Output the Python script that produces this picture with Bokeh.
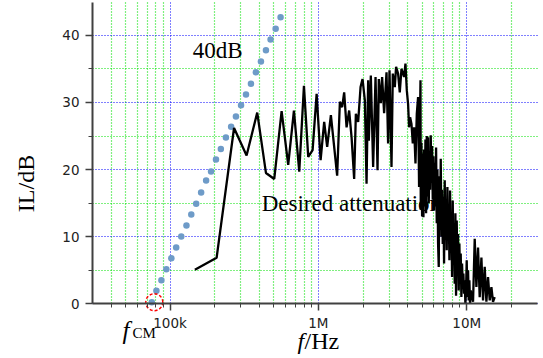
import math
from bokeh.plotting import figure
from bokeh.models import FixedTicker, Label, ColumnDataSource, Grid
from bokeh.core.properties import value
from bokeh.embed import file_html
from bokeh.resources import INLINE

# ---- axis ticks ----
x_major = [1e5, 1e6, 1e7]
x_tick_labels = ["100k", "1M", "10M"]
x_minor = [m * 10 ** e for e in (4, 5, 6, 7) for m in range(2, 10) if 3e4 < m * 10 ** e < 3e7]
y_major = [0, 10, 20, 30, 40]
y_minor = [5, 15, 25, 35]
x_axis_span = (3e4, 3e7)
y_axis_span = (0, 44.9)

# ---- 40 dB/dec desired attenuation line (dots) ----
dots_freq_khz = [75.3, 80.9, 87.4, 94.4, 102, 110, 119, 129, 139, 150, 162, 175, 189, 204,
                 220, 238, 258, 278, 301, 325, 351, 379, 410, 443, 476, 515, 556]
dots_db = [0.24, 1.94, 3.52, 5.16, 6.80, 8.39, 10.03, 11.67, 13.31, 14.91, 16.59, 18.38, 19.72,
           21.5, 23.05, 24.8, 26.4, 27.9, 29.6, 31.2, 32.8, 34.5, 36.1, 37.8, 39.4, 41.0, 42.7]

# ---- measured insertion loss ----
il_freq_mhz = [
    0.147, 0.206, 0.270, 0.328, 0.387, 0.443, 0.504, 0.565, 0.626, 0.684, 0.743, 0.799,
    0.854, 0.914, 0.973, 1.035, 1.094, 1.146, 1.214, 1.338, 1.396, 1.446, 1.492, 1.549,
    1.612, 1.674, 1.742, 1.789, 1.854, 1.924, 1.984, 2.057, 2.112, 2.165, 2.188, 2.257,
    2.339, 2.428, 2.504, 2.555, 2.636, 2.689, 2.774, 2.879, 2.951, 3.016, 3.111, 3.174,
    3.274, 3.340, 3.446, 3.537, 3.632, 3.782, 3.864, 3.945, 4.024, 4.087, 4.152, 4.242,
    4.329, 4.417, 4.514, 4.606, 4.700, 4.773, 4.878,
    4.900, 4.951, 5.002, 5.054, 5.107, 5.160, 5.213, 5.267, 5.322, 5.377, 5.433, 5.490,
    5.547, 5.604, 5.663, 5.721, 5.781, 5.841, 5.902, 5.963, 6.025, 6.087, 6.151, 6.215,
    6.279, 6.344, 6.410, 6.477, 6.544, 6.612, 6.681, 6.750, 6.820, 6.891, 6.963, 7.035,
    7.108, 7.182, 7.257, 7.332, 7.408, 7.485, 7.563, 7.642, 7.721, 7.801, 7.882, 7.964,
    8.047, 8.130, 8.215, 8.300, 8.386, 8.474, 8.562, 8.651, 8.741, 8.831, 8.923, 9.016,
    9.110, 9.204, 9.300, 9.396, 9.494, 9.593, 9.692, 9.793, 9.895, 9.998, 10.10, 10.21,
    10.31, 10.42, 10.53, 10.64,
    11.03, 11.32, 11.62, 11.92, 12.23, 12.56, 12.88, 13.22, 13.57, 13.92, 14.29, 14.67,
    15.04, 15.44]
il_db = [
    5.07, 6.86, 26.2, 22.1, 28.5, 19.5, 18.6, 28.7, 20.7, 28.8, 19.7, 32.5,
    21.9, 22.9, 31.3, 21.4, 27.1, 23.4, 28.1, 19.1, 30.1, 29.3, 31.5, 26.3,
    28.8, 24.8, 18.6, 28.3, 27.1, 32.3, 33.5, 30.3, 17.9, 33.3, 24.3, 34.0,
    20.4, 33.8, 19.9, 33.5, 29.9, 33.8, 28.4, 34.5, 23.9, 34.8, 20.4, 34.3,
    32.3, 35.3, 34.3, 31.5, 35.0, 33.8, 35.8, 31.8, 29.8, 26.3, 27.8, 26.8,
    23.9, 26.3, 20.9, 28.3, 30.8, 17.4, 33.3,
    14.0, 24.0, 13.0, 22.4, 12.9, 23.0, 14.5, 24.5, 13.5, 25.0, 16.0, 24.8,
    15.0, 22.0, 17.0, 25.1, 18.0, 23.5, 15.5, 22.0, 13.9, 21.0, 14.5, 23.3,
    12.0, 20.0, 9.0, 5.5, 19.0, 11.0, 21.6, 10.0, 17.0, 8.9, 16.0, 6.0,
    18.4, 9.5, 15.0, 8.0, 17.4, 10.0, 14.0, 6.5, 16.9, 8.0, 13.0, 4.0,
    15.4, 6.0, 11.0, 3.0, 13.5, 1.2, 12.4, 5.0, 10.4, 2.0, 9.0, 3.0,
    7.5, 1.0, 6.0, 3.0, 4.5, 1.5, 3.5, 0.0, 2.0, 6.5, 1.0, 5.0,
    0.5, 3.5, 0.0, 2.0,
    0.3, 9.7, 2.5, 8.4, 1.0, 6.9, 0.5, 5.5, 0.3, 4.0, 0.5, 2.5,
    0.3, 1.0]

# ---- annotation text ----
slope_text = "40dB"
slope_pos = (142e3, 37.7)
desired_text = "Desired attenuation"
desired_pos = (414.5e3, 15.0)
fcm_freq, fcm_db = [78.3e3], [0.24]

SERIF = "Liberation Serif"
W, H = 541, 356
# axes drawn at fixed data locations; the frame spans the whole canvas
X_LEFT_PX, X_RIGHT_PX = 92, 537
Y_ZERO_PX, Y_TOP_PX = 303.3, 2
dec_px = (X_RIGHT_PX - X_LEFT_PX) / math.log10(x_axis_span[1] / x_axis_span[0])
db_px = (Y_ZERO_PX - Y_TOP_PX) / (y_axis_span[1] - y_axis_span[0])
x_start = x_axis_span[0] / 10 ** (X_LEFT_PX / dec_px)
x_end = x_axis_span[1] * 10 ** ((W - X_RIGHT_PX) / dec_px)
y_start = y_axis_span[0] - (H - Y_ZERO_PX) / db_px
y_end = y_axis_span[1] + Y_TOP_PX / db_px

p = figure(width=W, height=H, x_axis_type="log", x_range=(x_start, x_end),
           y_range=(y_start, y_end), output_backend="svg", toolbar_location=None,
           min_border=0)
p.outline_line_color = None
p.background_fill_color = "white"
p.border_fill_color = "white"

xt = FixedTicker(ticks=x_major, minor_ticks=x_minor)
yt = FixedTicker(ticks=y_major, minor_ticks=y_minor)
p.xaxis.ticker = xt
p.yaxis.ticker = yt
p.xgrid.ticker = xt
p.ygrid.ticker = yt
p.xaxis.major_label_overrides = {float(k): v for k, v in zip(x_major, x_tick_labels)}
p.xaxis.fixed_location = y_axis_span[0]
p.yaxis.fixed_location = x_axis_span[0]
p.xaxis.bounds = x_axis_span
p.yaxis.bounds = y_axis_span

for ax in (p.xaxis, p.yaxis):
    ax.axis_line_color = "#404040"
    ax.axis_line_width = 2
    ax.major_tick_line_color = "#404040"
    ax.minor_tick_line_color = "#404040"
    ax.major_tick_line_width = 1.5
    ax.minor_tick_line_width = 1
    ax.major_tick_in = 0
    ax.major_tick_out = 7
    ax.minor_tick_in = 0
    ax.minor_tick_out = 4
    ax.major_label_text_font = "DejaVu Sans"
    ax.major_label_text_font_size = "13.5px"
    ax.major_label_text_color = "#222222"
p.xaxis.major_label_standoff = 4
p.yaxis.major_label_standoff = 6

has_cross_bounds = "cross_bounds" in Grid.properties()
for g in (p.xgrid, p.ygrid):
    g.grid_line_color = "#0000ff"
    g.grid_line_dash = "1 2"
    g.grid_line_width = 1
    g.minor_grid_line_color = "#00e000"
    g.minor_grid_line_dash = "1 2"
    g.minor_grid_line_width = 1.2
if has_cross_bounds:
    p.xgrid.cross_bounds = y_axis_span
    p.ygrid.cross_bounds = x_axis_span
else:
    # mask the grid outside the axes' extent
    p.quad(left=[x_start, x_axis_span[0], x_axis_span[0], x_axis_span[1]],
           right=[x_axis_span[0], x_end, x_end, x_end],
           bottom=[y_start, y_start, y_axis_span[1], y_start],
           top=[y_end, y_axis_span[0], y_end, y_end],
           fill_color="white", line_color=None)

# texts beneath the curve
p.text(x=[slope_pos[0]], y=[slope_pos[1]], text=[slope_text], text_font=value(SERIF),
       text_font_size=value("23px"), text_color="black", text_align="left",
       text_baseline="alphabetic")
p.text(x=[desired_pos[0]], y=[desired_pos[1]], text=[desired_text], text_font=value(SERIF),
       text_font_size=value("23px"), text_color="black", text_align="left",
       text_baseline="alphabetic")

dots = ColumnDataSource(dict(f=[v * 1e3 for v in dots_freq_khz], db=dots_db))
p.scatter("f", "db", source=dots, size=6.5, color="#6e9bc8", line_color=None)

il = ColumnDataSource(dict(f=[v * 1e6 for v in il_freq_mhz], db=il_db))
p.line("f", "db", source=il, line_color="black", line_width=2.3)

# red dashed circle marking f_CM
p.scatter(x=fcm_freq, y=fcm_db, marker="circle", size=17, fill_color=None,
          line_color="red", line_dash="3 2", line_width=1.5)


def canvas_label(x, y, text, **kw):
    p.add_layout(Label(x=x, y=y, x_units="canvas", y_units="canvas", text=text,
                       text_color="black", text_font=SERIF, **kw))


# axis titles
canvas_label(25, 183, "IL/dB", angle=math.pi / 2, text_font_size="24px",
             text_align="center", text_baseline="middle")
canvas_label(297, 340, "f", text_font_style="italic", text_font_size="24px",
             text_align="left", text_baseline="alphabetic")
canvas_label(304, 340, "/Hz", text_font_size="24px",
             text_align="left", text_baseline="alphabetic")
canvas_label(122, 330, "f", text_font_style="italic", text_font_size="25px",
             text_align="left", text_baseline="alphabetic")
canvas_label(132, 332, "CM", text_font_size="15px",
             text_align="left", text_baseline="alphabetic")

open("out.html", "w").write(file_html(p, INLINE))
